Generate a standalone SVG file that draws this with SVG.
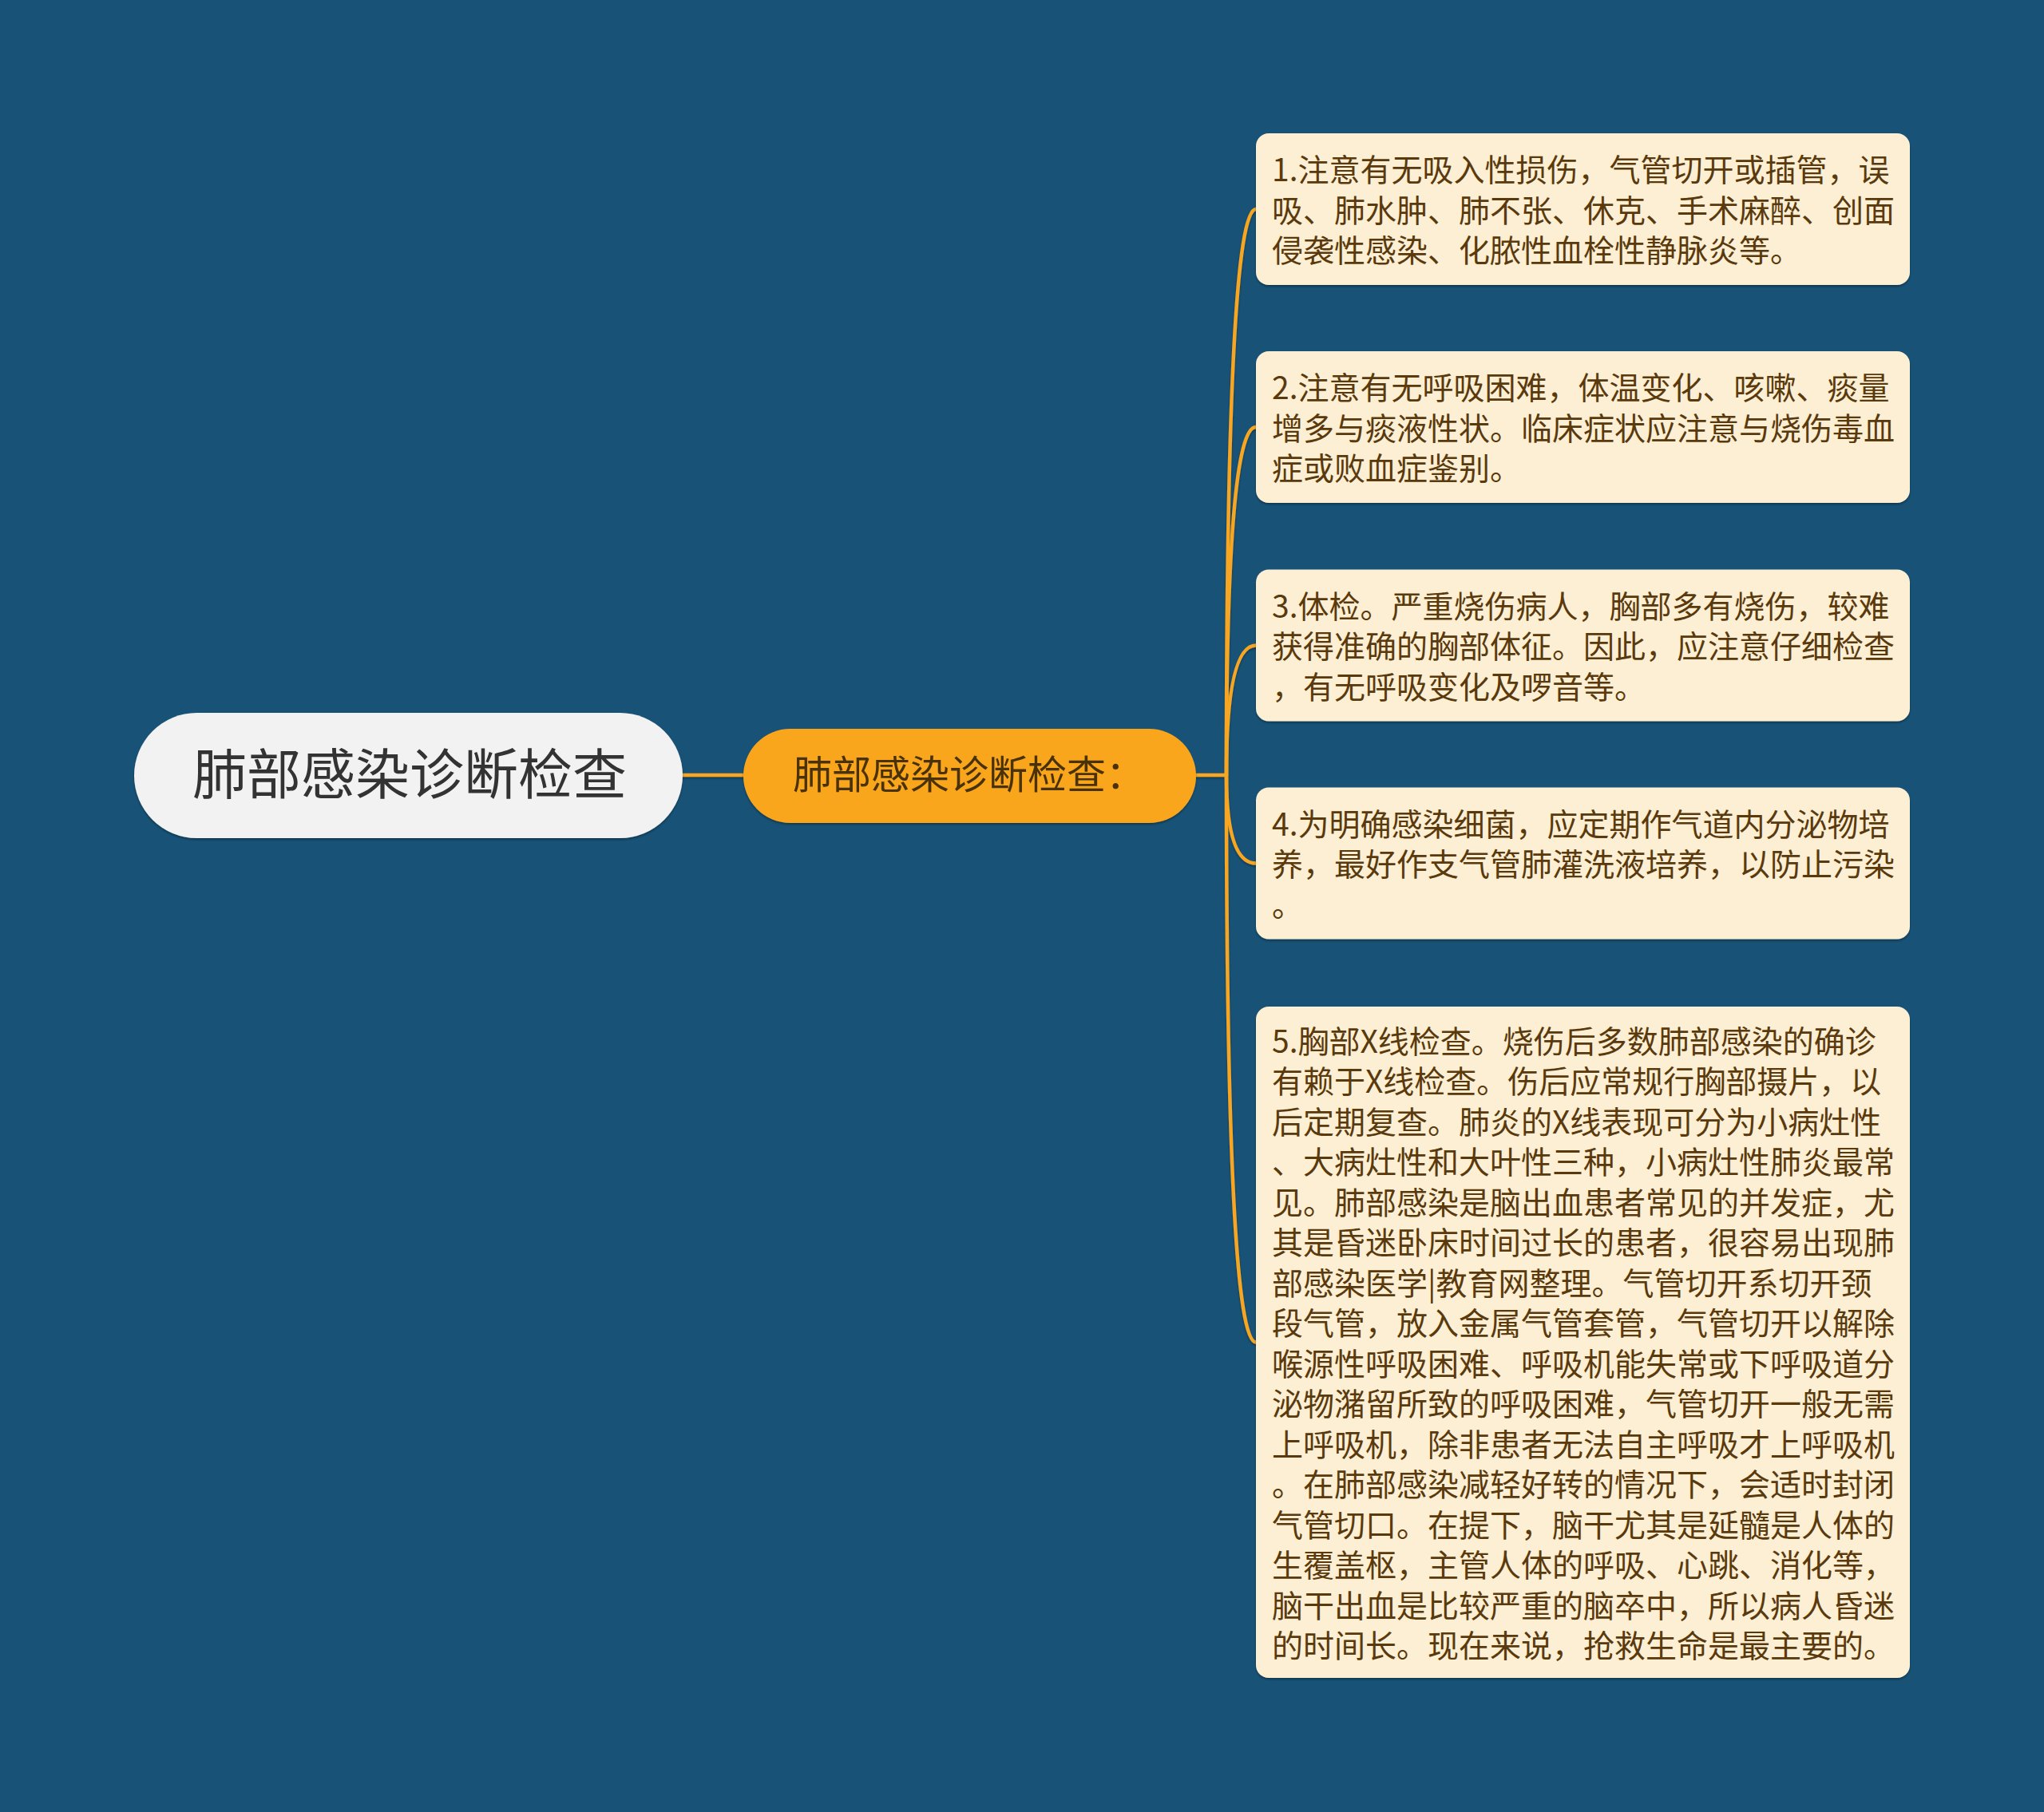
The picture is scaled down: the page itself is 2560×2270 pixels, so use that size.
<svg xmlns="http://www.w3.org/2000/svg" width="2560" height="2270" viewBox="0 0 2560 2270">
<defs>
<filter id="sh" x="-5%" y="-5%" width="110%" height="115%">
<feDropShadow dx="0" dy="2" stdDeviation="1.5" flood-color="#000" flood-opacity="0.35"/>
</filter>
<style>
.bg{fill:#185377}
.root{fill:#f2f2f2}
.roott{font-family:"Noto Sans CJK SC","Noto Sans",sans-serif;font-size:68px;fill:#333333}
.mid{fill:#f9a61d}
.midt{font-family:"Noto Sans CJK SC","Noto Sans",sans-serif;font-size:49px;fill:#4a3208}
.leaf{fill:#fdefd4}
.leaft{font-family:"Noto Sans CJK SC","Noto Sans",sans-serif;font-size:39px;fill:#5a3a0c}
.con{fill:none;stroke:#f6a623;stroke-width:4.5;stroke-linecap:round}
</style>
</defs>
<rect class="bg" x="0" y="0" width="2560" height="2270"/>
<g id="connectors" filter="url(#sh)">
<path class="con" d="M855 971 L931 971"/>
<path class="con" d="M1498 971 L1536 971"/>
<path class="con" d="M1536 971 Q1536 262 1573 262"/>
<path class="con" d="M1536 971 Q1536 535 1573 535"/>
<path class="con" d="M1536 971 Q1536 808.5 1573 808.5"/>
<path class="con" d="M1536 971 Q1536 1081.5 1573 1081.5"/>
<path class="con" d="M1536 971 Q1536 1681.5 1573 1681.5"/>
</g>
<g id="root">
<rect class="root" x="168" y="893" width="687" height="157" rx="78.5" filter="url(#sh)"/>
<text class="roott" x="513" y="995" text-anchor="middle">肺部感染诊断检查</text>
</g>
<g id="mid">
<rect class="mid" x="931" y="913" width="567" height="118" rx="59" filter="url(#sh)"/>
<text class="midt" x="1213.5" y="988" text-anchor="middle">肺部感染诊断检查：</text>
</g>
<g id="leaf1">
<rect class="leaf" x="1573" y="167" width="819" height="190" rx="16" filter="url(#sh)"/>
<text class="leaft"><tspan x="1593" y="227.3">1.注意有无吸入性损伤，气管切开或插管，误</tspan><tspan x="1593" y="277.8">吸、肺水肿、肺不张、休克、手术麻醉、创面</tspan><tspan x="1593" y="328.3">侵袭性感染、化脓性血栓性静脉炎等。</tspan></text>
</g>
<g id="leaf2">
<rect class="leaf" x="1573" y="440" width="819" height="190" rx="16" filter="url(#sh)"/>
<text class="leaft"><tspan x="1593" y="500.3">2.注意有无呼吸困难，体温变化、咳嗽、痰量</tspan><tspan x="1593" y="550.8">增多与痰液性状。临床症状应注意与烧伤毒血</tspan><tspan x="1593" y="601.3">症或败血症鉴别。</tspan></text>
</g>
<g id="leaf3">
<rect class="leaf" x="1573" y="713.5" width="819" height="190" rx="16" filter="url(#sh)"/>
<text class="leaft"><tspan x="1593" y="773.8">3.体检。严重烧伤病人，胸部多有烧伤，较难</tspan><tspan x="1593" y="824.3">获得准确的胸部体征。因此，应注意仔细检查</tspan><tspan x="1593" y="874.8">，有无呼吸变化及啰音等。</tspan></text>
</g>
<g id="leaf4">
<rect class="leaf" x="1573" y="986.5" width="819" height="190" rx="16" filter="url(#sh)"/>
<text class="leaft"><tspan x="1593" y="1046.8">4.为明确感染细菌，应定期作气道内分泌物培</tspan><tspan x="1593" y="1097.3">养，最好作支气管肺灌洗液培养，以防止污染</tspan><tspan x="1593" y="1147.8">。</tspan></text>
</g>
<g id="leaf5">
<rect class="leaf" x="1573" y="1261" width="819" height="841" rx="16" filter="url(#sh)"/>
<text class="leaft"><tspan x="1593" y="1318.5">5.胸部X线检查。烧伤后多数肺部感染的确诊</tspan><tspan x="1593" y="1369">有赖于X线检查。伤后应常规行胸部摄片，以</tspan><tspan x="1593" y="1419.5">后定期复查。肺炎的X线表现可分为小病灶性</tspan><tspan x="1593" y="1470">、大病灶性和大叶性三种，小病灶性肺炎最常</tspan><tspan x="1593" y="1520.5">见。肺部感染是脑出血患者常见的并发症，尤</tspan><tspan x="1593" y="1571">其是昏迷卧床时间过长的患者，很容易出现肺</tspan><tspan x="1593" y="1621.5">部感染医学|教育网整理。气管切开系切开颈</tspan><tspan x="1593" y="1672">段气管，放入金属气管套管，气管切开以解除</tspan><tspan x="1593" y="1722.5">喉源性呼吸困难、呼吸机能失常或下呼吸道分</tspan><tspan x="1593" y="1773">泌物潴留所致的呼吸困难，气管切开一般无需</tspan><tspan x="1593" y="1823.5">上呼吸机，除非患者无法自主呼吸才上呼吸机</tspan><tspan x="1593" y="1874">。在肺部感染减轻好转的情况下，会适时封闭</tspan><tspan x="1593" y="1924.5">气管切口。在提下，脑干尤其是延髓是人体的</tspan><tspan x="1593" y="1975">生覆盖枢，主管人体的呼吸、心跳、消化等，</tspan><tspan x="1593" y="2025.5">脑干出血是比较严重的脑卒中，所以病人昏迷</tspan><tspan x="1593" y="2076">的时间长。现在来说，抢救生命是最主要的。</tspan></text>
</g>
</svg>
